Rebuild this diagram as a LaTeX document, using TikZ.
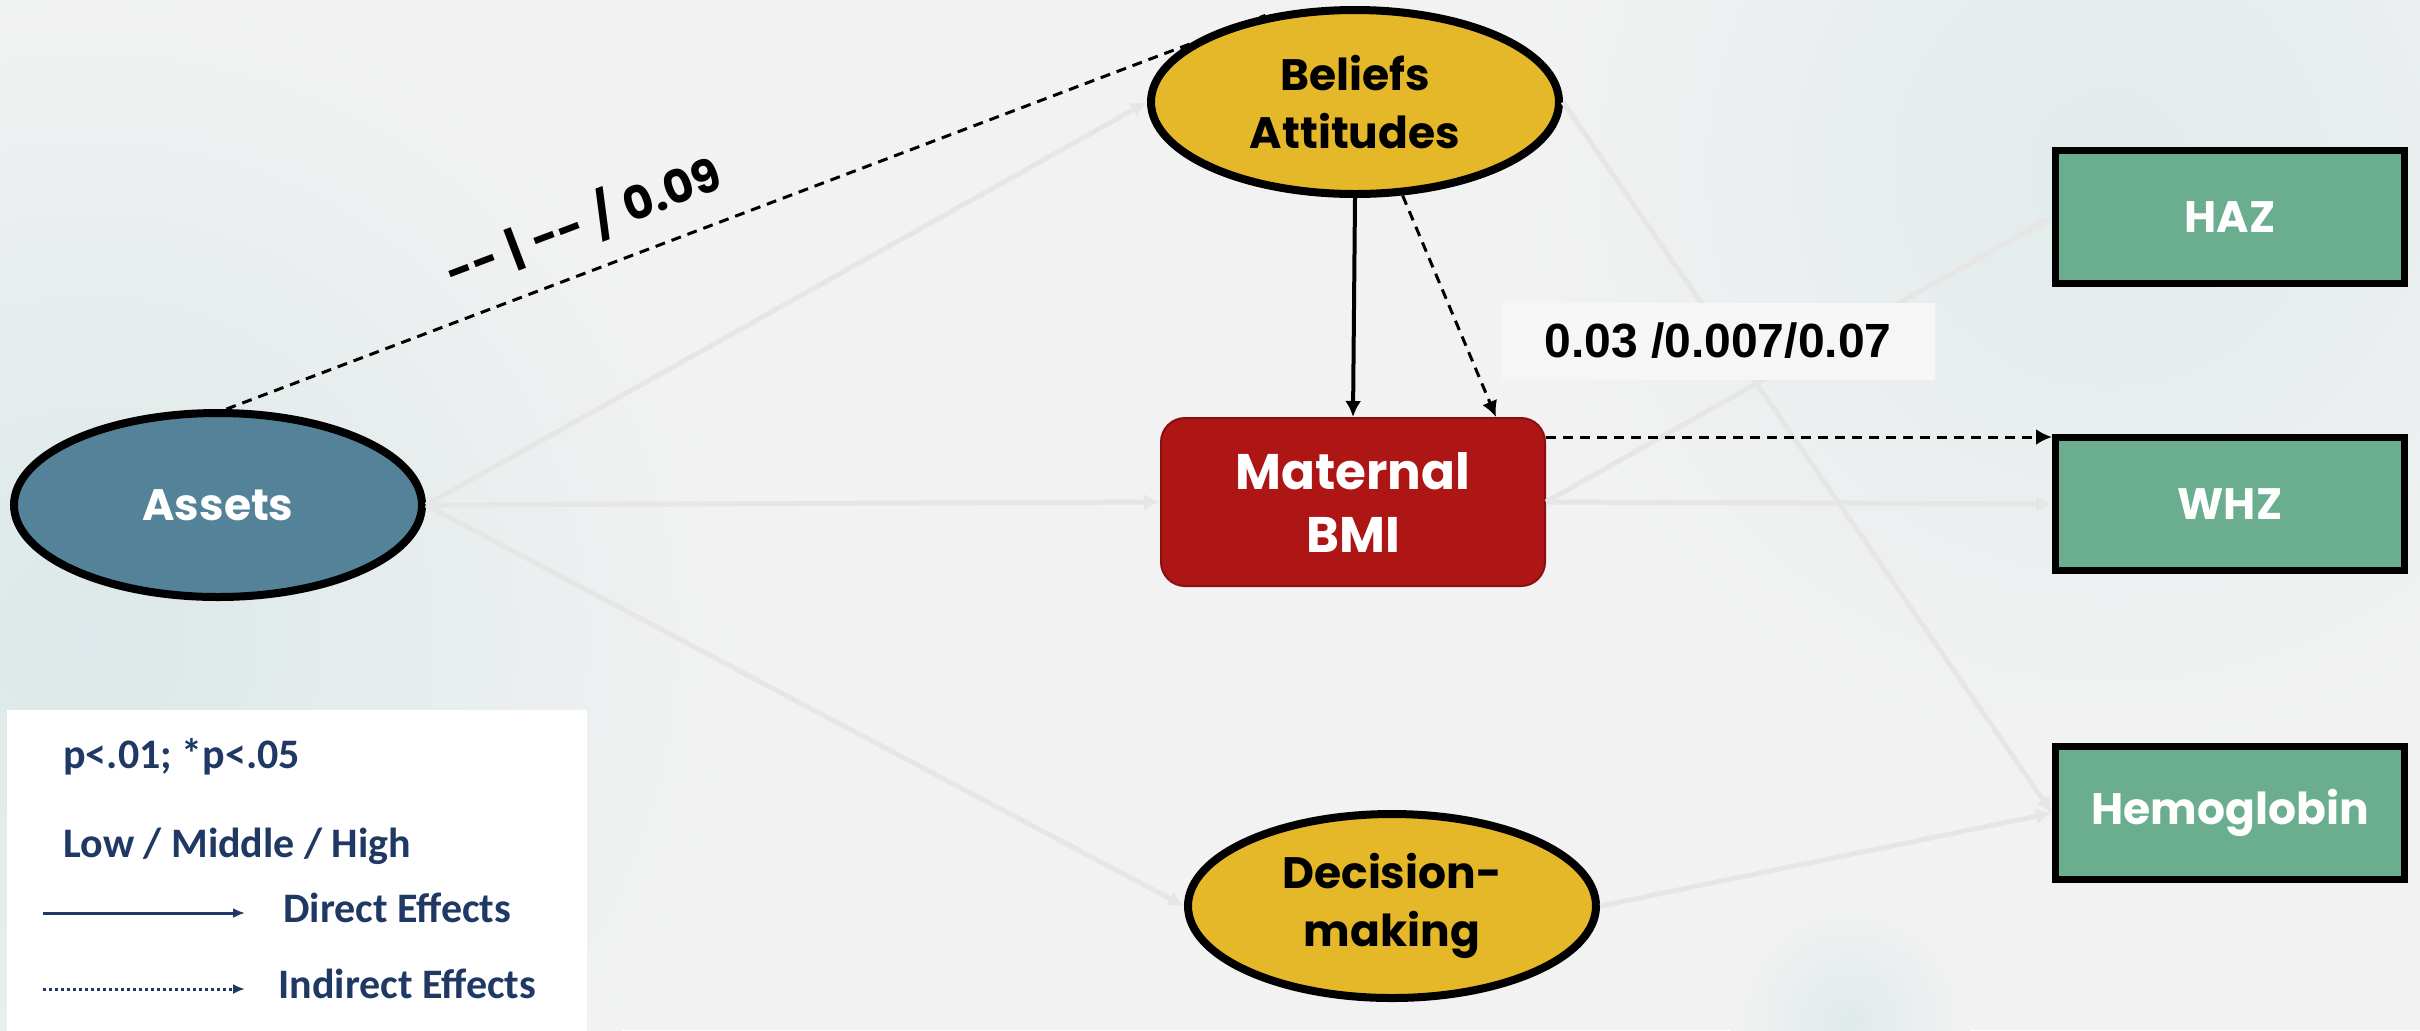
\documentclass[tikz,border=0pt]{standalone}
\usepackage{fontspec}
\newfontfamily\gothic{Poppins}
\newfontfamily\calib{Carlito}
\newfontfamily\arialf{Liberation Sans}
\usetikzlibrary{shapes.geometric,arrows.meta}
\definecolor{bgcol}{HTML}{F2F2F2}
\definecolor{glowcol}{HTML}{DCE8E9}
\definecolor{assetblue}{HTML}{538299}
\definecolor{gold}{HTML}{E5B829}
\definecolor{bmired}{HTML}{AE1515}
\definecolor{bmiborder}{HTML}{8A1010}
\definecolor{outgreen}{HTML}{6AAD8F}
\definecolor{fadeline}{HTML}{E6E6E6}
\definecolor{labelbg}{HTML}{F6F6F6}
\definecolor{legnavy}{HTML}{1F3864}

\begin{document}
\begin{tikzpicture}[x=0.5pt,y=-0.5pt,
   every node/.style={font=\gothic\bfseries\fontsize{22}{29}\selectfont,align=center},
   latent/.style={draw,ellipse,line width=4pt,minimum width=204pt,minimum height=92pt,inner sep=0pt},
   outcome/.style={draw,rectangle,fill=outgreen,text=white,line width=3.5pt,
      minimum width=174.5pt,minimum height=66.5pt},
   faint/.style={draw=fadeline,line width=2.5pt,-{Latex[length=8pt,width=8pt]}},
   direct/.style={line width=2pt,-{Latex[length=8pt,width=8pt]}},
   indirect/.style={line width=1.5pt,dash pattern=on 5pt off 3.5pt,-{Latex[length=8pt,width=8pt]}},
   legtext/.style={font=\calib\bfseries\fontsize{21}{24}\selectfont,text=legnavy,anchor=base west,inner sep=0pt}]
\useasboundingbox (0,0) rectangle (2420,1030);
\fill[bgcol] (0,0) rectangle (2420,1030);
\shade[inner color=glowcol,outer color=bgcol] (90,640) circle (330pt);
\shade[inner color=glowcol!75!bgcol,outer color=bgcol] (2110,170) circle (300pt);
\shade[inner color=glowcol!80!bgcol,outer color=bgcol] (1850,1020) circle (60pt);

\fill[white] (7,710) rectangle (587,1040);
\node[legtext] (pval) at (63,768) {p<.01; *p<.05};
\node[legtext] (levels) at (63,857) {Low / Middle / High};
\node[legtext] (dirtext) at (283,922) {Direct Effects};
\node[legtext] (indtext) at (278,998) {Indirect Effects};
\coordinate (dira) at (43,913);
\coordinate (dirb) at (245,913);
\coordinate (inda) at (43,989);
\coordinate (indb) at (245,989);
\draw[legnavy,line width=1.5pt,-{Latex[length=6pt,width=5pt]}] (dira) -- (dirb);
\draw[legnavy,line width=1.5pt,dash pattern=on 1.5pt off 1.5pt,-{Latex[length=6pt,width=5pt]}] (inda) -- (indb);

\node[latent,fill=assetblue,text=white] (assets) at (218,505) {Assets};
\node[latent,fill=gold] (beliefs) at (1355,102) {Beliefs\\Attitudes};
\node[latent,fill=gold] (decision) at (1392,906) {Decision-\\making};
\node[draw=bmiborder,fill=bmired,text=white,line width=1pt,rounded corners=12pt,
   minimum width=192pt,minimum height=84pt,font=\gothic\bfseries\fontsize{25}{31.5}\selectfont]
   (bmi) at (1353,502) {Maternal\\BMI};
\node[outcome] (haz) at (2230,217) {HAZ};
\node[outcome] (whz) at (2230,504) {WHZ};
\node[outcome] (hemo) at (2230,813) {Hemoglobin};

\draw[faint] (assets.east) -- (beliefs.west);
\draw[faint] (assets.east) -- (bmi.west);
\draw[faint] (assets.east) -- (decision.west);
\draw[faint] (beliefs.east) -- (hemo.west);
\draw[faint] (decision.east) -- (hemo.west);
\draw[faint] (bmi.east) -- (haz.west);
\draw[faint] (bmi.east) -- (whz.west);

\node[font=\arialf\bfseries\fontsize{24}{28}\selectfont,fill=labelbg,
   minimum width=216.5pt,minimum height=38.5pt] (effect) at (1718,341) {0.03 /0.007/0.07};

\draw[direct] (beliefs.south) -- (bmi.north);
\draw[indirect] (beliefs.-63) -- ([xshift=-25pt]bmi.north east);
\coordinate (bmiout) at ([yshift=-10pt]bmi.north east);
\draw[indirect] (bmiout) -- (bmiout -| whz.west);
\draw[indirect,-] (assets.85) -- (beliefs.136)
   node[pos=.36,sloped,above=7pt,font=\gothic\bfseries\fontsize{23}{28}\selectfont] (assetlbl)
   {-{}-\hspace{6pt}|\hspace{6pt}-{}-\hspace{6pt}/\hspace{6pt}0.09};
\end{tikzpicture}
\end{document}
